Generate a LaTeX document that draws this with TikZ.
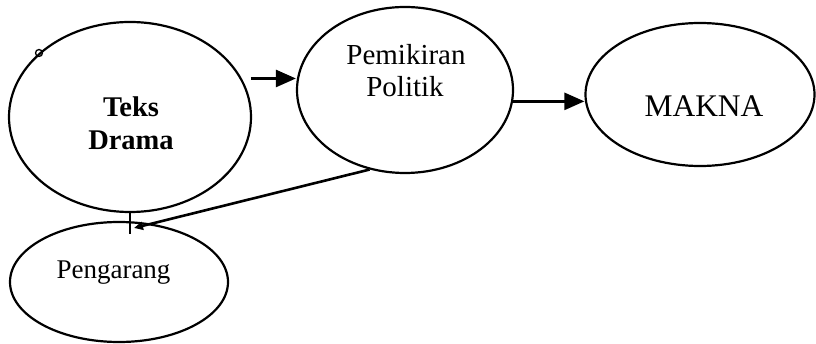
\documentclass[tikz,border=0pt]{standalone}
\usepackage{fontspec}
\setmainfont{Liberation Serif}
\usetikzlibrary{shapes.geometric,arrows.meta}

\tikzset{
  oval/.style={ellipse, draw=black, line width=2.2pt, inner sep=0pt},
  link/.style={draw=black, line width=2.6pt},
  arr/.style={link, -{Triangle[length=20pt,width=17pt]}},
  smallarr/.style={link, -{Triangle[length=9pt,width=8pt]}},
  lbl/.style={anchor=base, inner sep=0pt}
}

\begin{document}
\begin{tikzpicture}[x=1pt, y=-1pt]
  \useasboundingbox (0,0) rectangle (816,344);

  % the four ellipses
  \node[oval, minimum width=242pt, minimum height=190pt] (td) at (130,117) {};
  \node[oval, minimum width=216pt, minimum height=166pt] (pp) at (405,90) {};
  \node[oval, minimum width=229pt, minimum height=143pt] (mk) at (700,94.5) {};
  \node[oval, minimum width=218pt, minimum height=120pt] (pg) at (119,282) {};

  % texts
  \node[lbl, font=\fontsize{28.5}{33}\selectfont\bfseries] (td-a) at (131,117) {Teks};
  \node[lbl, font=\fontsize{28.5}{33}\selectfont\bfseries] (td-b) at (131,150) {Drama};
  \node[lbl, font=\fontsize{29}{33}\selectfont] (pp-a) at (406,65) {Pemikiran};
  \node[lbl, font=\fontsize{29}{33}\selectfont] (pp-b) at (405,97) {Politik};
  \node[lbl, font=\fontsize{31.5}{36}\selectfont] (mk-a) at (704,117) {MAKNA};
  \node[lbl, font=\fontsize{27}{32}\selectfont] (pg-a) at (113.5,279) {Pengarang};

  % small mark on the upper left of the first ellipse
  \draw[line width=1.3pt] (39,53) circle (3.5pt);

  % connectors
  \draw[arr] ([xshift=9pt]td.19.5) -- (td.19.5 -| pp.west);
  \draw[arr] (pp.-6.9) -- (pp.-6.9 -| mk.west);

  \coordinate (pgtip) at (134,228);
  \coordinate (pgfoot) at (131,234);
  \draw[smallarr] (pp.-114) -- (pgtip);
  \draw[link, line width=1.8pt] (td.south) -- (td.south |- pgfoot);
\end{tikzpicture}
\end{document}
